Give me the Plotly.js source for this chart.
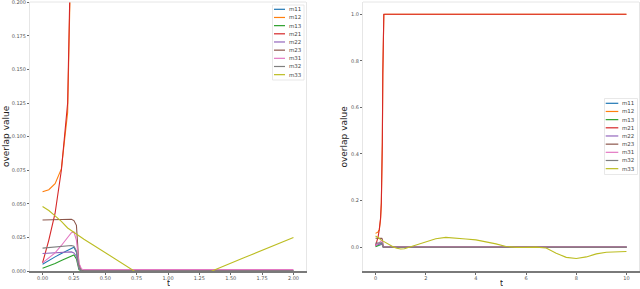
<!DOCTYPE html>
<html>
<head>
<meta charset="utf-8">
<script src="https://cdn.plot.ly/plotly-3.0.1.min.js"></script>
<style>html,body{margin:0;padding:0;background:#fff}#chart{width:640px;height:289px}</style>
</head>
<body>
<div id="chart"></div>
<script>
// ---------- data ----------
const t = [0, 0.05, 0.1, 0.15, 0.2, 0.23, 0.25, 0.27, 0.29, 0.31, 0.33, 0.4, 0.5, 0.6, 0.73, 0.85, 1.0, 1.15, 1.35, 1.6, 2.0,
           2.4, 2.8, 3.2, 3.6, 4.0, 4.4, 4.8, 5.2, 5.6, 6.0, 6.4, 6.8, 7.2, 7.6, 8.0, 8.4, 8.8, 9.2, 9.6, 10.0];
const seriesNames = ["m11", "m12", "m13", "m21", "m22", "m23", "m31", "m32", "m33"];
const seriesColors = ["#1f77b4", "#ff7f0e", "#2ca02c", "#d62728", "#9467bd", "#8c564b", "#e377c2", "#7f7f7f", "#bcbd22"];

const m11 = [0.005, 0.008, 0.0105, 0.013, 0.0155, 0.017, 0.0176, 0.014, 0.002, 0.0003, 0, 0, 0, 0, 0, 0, 0, 0, 0, 0, 0,
             0, 0, 0, 0, 0, 0, 0, 0, 0, 0, 0, 0, 0, 0, 0, 0, 0, 0, 0, 0];
const m12 = [0.059, 0.0605, 0.065, 0.076, 0.118, 0.185, 0.28, 0.44, 0.74, 0.96, 0.999, 1, 1, 1, 1, 1, 1, 1, 1, 1, 1,
             1, 1, 1, 1, 1, 1, 1, 1, 1, 1, 1, 1, 1, 1, 1, 1, 1, 1, 1, 1];
const m13 = [0.002, 0.0035, 0.0055, 0.0078, 0.0102, 0.0115, 0.012, 0.009, 0.001, 0, 0, 0, 0, 0, 0, 0, 0, 0, 0, 0, 0,
             0, 0, 0, 0, 0, 0, 0, 0, 0, 0, 0, 0, 0, 0, 0, 0, 0, 0, 0, 0];
const m21 = [0.006, 0.023, 0.043, 0.075, 0.125, 0.19, 0.3, 0.45, 0.75, 0.97, 1.0, 1, 1, 1, 1, 1, 1, 1, 1, 1, 1,
             1, 1, 1, 1, 1, 1, 1, 1, 1, 1, 1, 1, 1, 1, 1, 1, 1, 1, 1, 1];
const m22 = [0.013, 0.0132, 0.0135, 0.0138, 0.014, 0.0142, 0.0135, 0.011, 0.002, 0.0002, 0, 0, 0, 0, 0, 0, 0, 0, 0, 0, 0,
             0, 0, 0, 0, 0, 0, 0, 0, 0, 0, 0, 0, 0, 0, 0, 0, 0, 0, 0, 0];
const m23 = [0.038, 0.0382, 0.0384, 0.0386, 0.0387, 0.0385, 0.0375, 0.034, 0.005, 0.0005, 0, 0, 0, 0, 0, 0, 0, 0, 0, 0, 0,
             0, 0, 0, 0, 0, 0, 0, 0, 0, 0, 0, 0, 0, 0, 0, 0, 0, 0, 0, 0];
const m31 = [0.006, 0.0095, 0.0135, 0.019, 0.025, 0.0285, 0.029, 0.023, 0.006, 0.0015, 0.001, 0.001, 0.001, 0.001, 0.001, 0.001, 0.001, 0.001, 0.001, 0.001, 0.001,
             0.001, 0.001, 0.001, 0.001, 0.001, 0.001, 0.001, 0.001, 0.001, 0.001, 0.001, 0.001, 0.001, 0.001, 0.001, 0.001, 0.001, 0.001, 0.001, 0.001];
const m32 = [0.017, 0.0175, 0.018, 0.0185, 0.019, 0.019, 0.0185, 0.015, 0.003, 0.0004, 0, 0, 0, 0, 0, 0, 0, 0, 0, 0, 0,
             0, 0, 0, 0, 0, 0, 0, 0, 0, 0, 0, 0, 0, 0, 0, 0, 0, 0, 0, 0];
const m33 = [0.048, 0.045, 0.041, 0.037, 0.032, 0.030, 0.0285, 0.0272, 0.026, 0.0248, 0.0236, 0.0196, 0.0135, 0.0075, 0.0, -0.005, -0.008, -0.007, 0.0, 0.0096, 0.025,
             0.036, 0.042, 0.040, 0.035, 0.031, 0.024, 0.014, 0.003, -0.001, -0.001, 0.0, -0.004, -0.026, -0.044, -0.049, -0.042, -0.029, -0.022, -0.019, -0.019];
const seriesValues = [m11, m12, m13, m21, m22, m23, m31, m32, m33];

const leftXTicks = [0, 0.25, 0.5, 0.75, 1.0, 1.25, 1.5, 1.75, 2.0];
const leftXTickText = ["0.00", "0.25", "0.50", "0.75", "1.00", "1.25", "1.50", "1.75", "2.00"];
const leftYTicks = [0, 0.025, 0.05, 0.075, 0.1, 0.125, 0.15, 0.175, 0.2];
const leftYTickText = ["0.000", "0.025", "0.050", "0.075", "0.100", "0.125", "0.150", "0.175", "0.200"];
const rightXTicks = [0, 2, 4, 6, 8, 10];
const rightXTickText = ["0", "2", "4", "6", "8", "10"];
const rightYTicks = [0, 0.2, 0.4, 0.6, 0.8, 1.0];
const rightYTickText = ["0.0", "0.2", "0.4", "0.6", "0.8", "1.0"];
const xTitle = "t";
const yTitle = "overlap value";
const leftTMax = 2.0;

// ---------- traces ----------
const traces = [];
seriesNames.forEach((name, i) => {
  const lx = [], ly = [];
  t.forEach((tv, k) => { if (tv <= leftTMax + 1e-9) { lx.push(tv); ly.push(seriesValues[i][k]); } });
  traces.push({x: lx, y: ly, type: "scatter", mode: "lines", name: name, xaxis: "x", yaxis: "y",
               line: {color: seriesColors[i], width: 1.1}, showlegend: false, hoverinfo: "skip"});
});
seriesNames.forEach((name, i) => {
  traces.push({x: t, y: seriesValues[i], type: "scatter", mode: "lines", name: name, xaxis: "x2", yaxis: "y2",
               line: {color: seriesColors[i], width: 1.1}, showlegend: false, hoverinfo: "skip"});
});

// ---------- layout ----------
const W = 640, H = 289;
const px = v => v / W, py = v => 1 - v / H;
const tickFont = {family: "DejaVu Sans", size: 5, color: "#555"};
const commonAxis = {showgrid: false, zeroline: false, ticks: "outside", ticklen: 2, tickwidth: 0.8,
                    tickcolor: "#444", tickfont: tickFont, tickmode: "array", fixedrange: true,
                    ticklabeloverflow: "allow"};
const yDomain = [1 - 271 / H, 1 - 2 / H];

const shapes = [];
const annotations = [];
// frame top lines
[["x", "y"], ["x2", "y2"]].forEach(([xa, ya]) => {
  shapes.push({type: "line", xref: xa + " domain", yref: ya + " domain", x0: 0, x1: 1, y0: 1, y1: 1,
               line: {color: "#e6e6e6", width: 1}});
});

function addLegend(box, lineX0, lineX1, textX, rowY0, rowStep) {
  shapes.push({type: "rect", xref: "paper", yref: "paper", x0: px(box[0]), x1: px(box[1]), y0: py(box[3]), y1: py(box[2]),
               line: {color: "#e2e2e2", width: 0.8}, fillcolor: "rgba(255,255,255,0.9)", layer: "above"});
  seriesNames.forEach((name, i) => {
    const yy = rowY0 + i * rowStep;
    shapes.push({type: "line", xref: "paper", yref: "paper", x0: px(lineX0), x1: px(lineX1), y0: py(yy), y1: py(yy),
                 line: {color: seriesColors[i], width: 1.2}, layer: "above"});
    annotations.push({xref: "paper", yref: "paper", x: px(textX), y: py(yy), xanchor: "left", yanchor: "middle",
                      text: name, showarrow: false, borderpad: 0, font: {family: "DejaVu Sans", size: 5.5, color: "#444"}});
  });
}
addLegend([272.5, 304, 5, 80], 274, 285, 288, 9.3, 8.17);
addLegend([604.5, 637.5, 98.5, 174.5], 605.7, 618.3, 621, 103.3, 8.17);

// axis titles
const titleFont = {family: "DejaVu Sans", size: 9, color: "#222"};
annotations.push({xref: "paper", yref: "paper", x: px(5.5), y: py(136.5), text: yTitle, textangle: -90, showarrow: false,
                  xanchor: "center", yanchor: "middle", borderpad: 0, font: titleFont});
annotations.push({xref: "paper", yref: "paper", x: px(343), y: py(136.5), text: yTitle, textangle: -90, showarrow: false,
                  xanchor: "center", yanchor: "middle", borderpad: 0, font: titleFont});
[168, 501].forEach(cx => {
  annotations.push({xref: "paper", yref: "paper", x: px(cx), y: 0, text: xTitle, showarrow: false,
                    xanchor: "center", yanchor: "bottom", borderpad: 0, height: 7.5, valign: "middle",
                    font: {family: "DejaVu Sans", size: 8, color: "#222"}});
});

const layout = {
  width: W, height: H,
  margin: {l: 0, r: 0, t: 0, b: 0, pad: 0},
  paper_bgcolor: "#ffffff", plot_bgcolor: "#ffffff",
  showlegend: false,
  xaxis: Object.assign({}, commonAxis, {domain: [30 / W, 306 / W], range: [-0.1, 2.1], anchor: "y", ticklabelstandoff: -1,
          tickvals: leftXTicks, ticktext: leftXTickText, showline: true, linecolor: "#7a7a7a", linewidth: 1.6}),
  yaxis: Object.assign({}, commonAxis, {domain: yDomain, range: [0, 0.2002], anchor: "x",
          tickvals: leftYTicks, ticktext: leftYTickText, showline: true, mirror: true, linecolor: "#e6e6e6", linewidth: 1}),
  xaxis2: Object.assign({}, commonAxis, {domain: [363 / W, 639 / W], range: [-0.5, 10.5], anchor: "y2", ticklabelstandoff: -1,
          tickvals: rightXTicks, ticktext: rightXTickText, showline: true, linecolor: "#7a7a7a", linewidth: 1.6}),
  yaxis2: Object.assign({}, commonAxis, {domain: yDomain, range: [-0.1025, 1.0525], anchor: "x2",
          tickvals: rightYTicks, ticktext: rightYTickText, showline: true, mirror: true, linecolor: "#e6e6e6", linewidth: 1}),
  shapes: shapes,
  annotations: annotations
};

Plotly.newPlot("chart", traces, layout, {staticPlot: true, displayModeBar: false});
</script>
</body>
</html>
